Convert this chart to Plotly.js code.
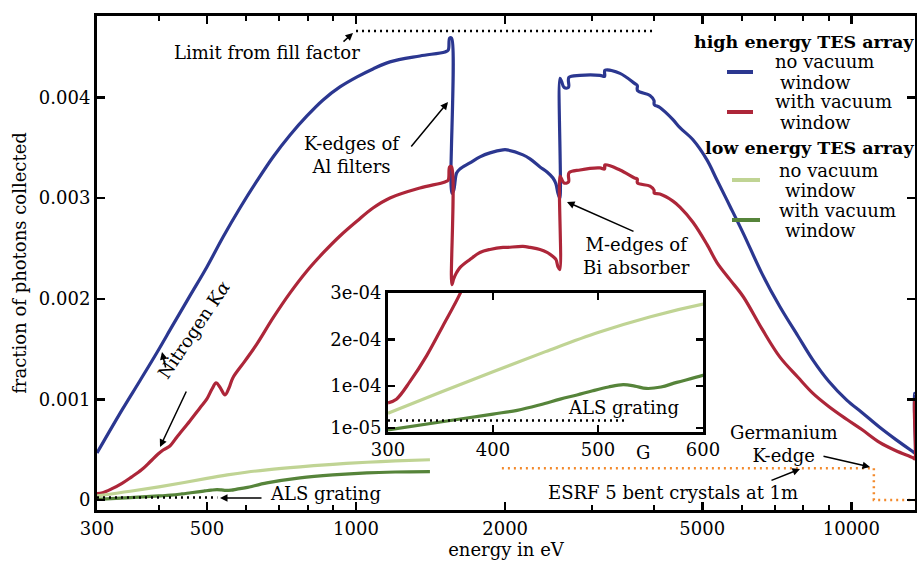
<!DOCTYPE html>
<html><head><meta charset="utf-8">
<script src="https://cdn.plot.ly/plotly-3.0.1.min.js"></script>
<style>html,body{margin:0;padding:0;background:#fff;} #chart{width:917px;height:562px;}</style>
</head><body><div id="chart"></div>
<script>
// ---------------- data ----------------
// high energy TES array, no vacuum window
const energyHighNoWindow = [300, 338, 366, 397, 427, 462, 500, 539, 583, 631, 680, 736, 796, 858, 928, 1005, 1082, 1171, 1346, 1512, 1535, 1545, 1559, 1561, 1575, 1596, 1621, 1698, 1779, 1864, 1980, 2016, 2173, 2245, 2352, 2430, 2498, 2533, 2556, 2578, 2581, 2600, 2630, 2685, 2690, 2832, 3108, 3175, 3180, 3411, 3650, 3696, 3700, 3921, 3995, 4000, 4106, 4363, 4507, 4788, 5110, 5353, 5687, 6050, 6600, 7174, 7800, 8364, 9000, 9798, 10500, 11421, 12300, 13317, 13410, 13419, 13450];
const highNoWindow = [0.000467, 0.000905, 0.001183, 0.001471, 0.00174, 0.002028, 0.002316, 0.002614, 0.002902, 0.003171, 0.003409, 0.003628, 0.003817, 0.003976, 0.004105, 0.004205, 0.004284, 0.004354, 0.004413, 0.004453, 0.00447, 0.00459, 0.00459, 0.00305, 0.00308, 0.00325, 0.00329, 0.00335, 0.00341, 0.00345, 0.00348, 0.00348, 0.00343, 0.00339, 0.00331, 0.00326, 0.0032, 0.00314, 0.00305, 0.003, 0.00419, 0.00416, 0.0041, 0.0041, 0.0042, 0.00422, 0.00422, 0.00421, 0.00427, 0.00424, 0.00414, 0.00412, 0.00407, 0.00402, 0.00397, 0.00393, 0.0039, 0.00378, 0.0037, 0.00358, 0.00338, 0.00318, 0.00292, 0.00265, 0.00225, 0.00192, 0.00163, 0.00139, 0.00118, 0.00099, 0.00087, 0.00072, 0.0006, 0.00048, 0.00047, 0.00106, 0.00106];
// high energy TES array, with vacuum window
const energyHighWithWindow = [300, 308, 321, 337, 352, 369, 384, 398, 408, 421, 435, 462, 484, 500, 512, 522, 531, 544, 554, 564, 597, 631, 680, 736, 796, 858, 928, 1005, 1082, 1171, 1346, 1512, 1535, 1545, 1559, 1561, 1575, 1596, 1621, 1698, 1779, 1864, 1980, 2016, 2173, 2245, 2352, 2430, 2498, 2533, 2556, 2578, 2581, 2600, 2630, 2685, 2690, 2832, 3108, 3175, 3180, 3411, 3650, 3696, 3700, 3921, 3995, 4000, 4106, 4363, 4507, 4788, 5110, 5353, 5687, 6050, 6600, 7174, 7800, 8364, 9000, 9798, 10500, 11421, 12300, 13317, 13410, 13419, 13450];
const highWithWindow = [0.000064, 0.000072, 0.00011, 0.000166, 0.000228, 0.0003, 0.00038, 0.000455, 0.000497, 0.000537, 0.000626, 0.000785, 0.000914, 0.001004, 0.001103, 0.001163, 0.001123, 0.001044, 0.001113, 0.001213, 0.001382, 0.001551, 0.001809, 0.002058, 0.002276, 0.002455, 0.002624, 0.002773, 0.002902, 0.003002, 0.003101, 0.003161, 0.00318, 0.00331, 0.00331, 0.00214, 0.0022, 0.00226, 0.00231, 0.00239, 0.00246, 0.00249, 0.00251, 0.00251, 0.00252, 0.00251, 0.00249, 0.00246, 0.00242, 0.00239, 0.00232, 0.00229, 0.00322, 0.00319, 0.00315, 0.00316, 0.00325, 0.00328, 0.0033, 0.00329, 0.00333, 0.00328, 0.0032, 0.00319, 0.00315, 0.00312, 0.00308, 0.00305, 0.00304, 0.00297, 0.00291, 0.00276, 0.00254, 0.00236, 0.00219, 0.00202, 0.0017, 0.00142, 0.00122, 0.00106, 0.00093, 0.0008, 0.0007, 0.00057, 0.00049, 0.00042, 0.00041, 0.001, 0.001];
// low energy TES array
const energyLowNoWindow = [300, 350, 400, 450, 500, 550, 600, 661, 771, 898, 1052, 1200, 1410];
const lowNoWindow = [4.15e-5, 8.7e-5, 1.31e-4, 1.74e-4, 2.15e-4, 2.49e-4, 2.76e-4, 3.0e-4, 3.3e-4, 3.55e-4, 3.75e-4, 3.88e-4, 4.0e-4];
const energyLowWithWindow = [300, 350, 400, 423, 445, 464, 480, 495, 510, 524, 535, 546, 560, 575, 600, 661, 771, 898, 1052, 1200, 1410];
const lowWithWindow = [6e-6, 2.3e-5, 4.0e-5, 4.8e-5, 6.0e-5, 7.2e-5, 8.1e-5, 9.0e-5, 9.8e-5, 1.03e-4, 1.0e-4, 9.5e-5, 9.8e-5, 1.08e-4, 1.23e-4, 1.7e-4, 2.2e-4, 2.5e-4, 2.7e-4, 2.78e-4, 2.82e-4];
// reference limits
const alsEnergy = [300, 525];
const alsGrating = [2.6e-5, 2.6e-5];
const fillEnergy = [1000, 3960];
const fillLimit = [0.00466, 0.00466];
const esrfEnergy = [1970, 11100, 11100, 13450];
const esrfCrystals = [0.000315, 0.000315, 0, 0];

const mainXTicks = [300, 500, 1000, 2000, 5000, 10000];
const mainXLabels = ['300', '500', '1000', '2000', '5000', '10000'];
const mainXMinor = [400, 600, 700, 800, 900, 3000, 4000, 6000, 7000, 8000, 9000];
const mainYTicks = [0, 0.001, 0.002, 0.003, 0.004];
const mainYLabels = ['0', '0.001', '0.002', '0.003', '0.004'];
const insetXTicks = [300, 400, 500, 600];
const insetXLabels = ['300', '400', '500', '600'];
const insetYTicks = [1e-5, 1e-4, 2e-4, 3e-4];
const insetYLabels = ['1e-05', '1e-04', '2e-04', '3e-04'];

// ---------------- style ----------------
const BLUE = '#2b3790', RED = '#ad2639', LGREEN = '#c0d494', DGREEN = '#56843a', ORANGE = '#f38a2c';
const FONT = 'DejaVu Serif';
const FS = 18;
const L = 97, R = 915, T = 16, B = 510;
const px = v => (v - L) / (R - L);
const py = v => (B - v) / (B - T);

function curve(x, y, color, xa, ya, name) {
  return {x: x, y: y, type: 'scatter', mode: 'lines', xaxis: xa, yaxis: ya, name: name,
    line: {color: color, width: 3.2, shape: 'spline', smoothing: 1}, hoverinfo: 'skip'};
}
function dotted(x, y, color, xa, ya, name) {
  return {x: x, y: y, type: 'scatter', mode: 'lines', xaxis: xa, yaxis: ya, name: name,
    line: {color: color, width: 2.5, dash: '2px,4px'}, hoverinfo: 'skip'};
}
const traces = [
  curve(energyHighNoWindow, highNoWindow, BLUE, 'x', 'y', 'high energy TES array: no vacuum window'),
  curve(energyHighWithWindow, highWithWindow, RED, 'x', 'y', 'high energy TES array: with vacuum window'),
  curve(energyLowNoWindow, lowNoWindow, LGREEN, 'x', 'y', 'low energy TES array: no vacuum window'),
  curve(energyLowWithWindow, lowWithWindow, DGREEN, 'x', 'y', 'low energy TES array: with vacuum window'),
  dotted(alsEnergy, alsGrating, 'black', 'x', 'y', 'ALS grating'),
  dotted(fillEnergy, fillLimit, 'black', 'x', 'y', 'Limit from fill factor'),
  dotted(esrfEnergy, esrfCrystals, ORANGE, 'x', 'y', 'ESRF 5 bent crystals at 1m'),
  curve(energyHighWithWindow, highWithWindow, RED, 'x2', 'y2', 'inset: high energy with vacuum window'),
  curve(energyLowNoWindow, lowNoWindow, LGREEN, 'x2', 'y2', 'inset: low energy no vacuum window'),
  curve(energyLowWithWindow, lowWithWindow, DGREEN, 'x2', 'y2', 'inset: low energy with vacuum window'),
  dotted(alsEnergy, alsGrating, 'black', 'x2', 'y2', 'inset: ALS grating')
];

function label(text, x, y, extra) {
  return Object.assign({xref: 'paper', yref: 'paper', x: px(x), y: py(y), text: text, showarrow: false,
    xanchor: 'center', yanchor: 'middle', font: {family: FONT, size: FS, color: 'black'}}, extra || {});
}
function arrow(hx, hy, tx, ty) {
  return {xref: 'paper', yref: 'paper', x: px(hx), y: py(hy), ax: tx - hx, ay: ty - hy, text: '',
    showarrow: true, arrowhead: 2, arrowsize: 1, arrowwidth: 1.5, arrowcolor: 'black'};
}
function swatch(x0, x1, y, color) {
  return {type: 'line', xref: 'paper', yref: 'paper', x0: px(x0), x1: px(x1), y0: py(y), y1: py(y),
    line: {color: color, width: 4}};
}
const boldFont = {family: FONT, size: 17.5, color: 'black'};

const annotations = [
  label('Limit from fill factor', 267, 53),
  arrow(353, 33, 342, 43),
  label('K-edges of<br>Al filters', 352, 155),
  arrow(448, 102, 410, 148),
  label('M-edges of<br>Bi absorber', 636, 256),
  arrow(567, 202, 635, 232),
  label('Nitrogen K<i>α</i>', 193, 330, {textangle: -56}),
  arrow(162, 352, 166, 369),
  arrow(160, 447, 187, 390),
  label('ALS grating', 325, 493),
  arrow(220, 498, 263, 498),
  label('ALS grating', 623, 408),
  label('G', 643, 452),
  label('Germanium<br>K-edge', 783, 444),
  arrow(870, 467, 822, 456),
  label('ESRF 5 bent crystals at 1m', 673, 492),
  arrow(800, 469, 770, 481),
  // legend
  label('<b>high energy TES array</b>', 804, 42, {font: boldFont}),
  label('no vacuum', 773, 62, {xanchor: 'left'}),
  label('window', 778, 82, {xanchor: 'left'}),
  label('with vacuum', 773, 101, {xanchor: 'left'}),
  label('window', 778, 122, {xanchor: 'left'}),
  label('<b>low energy TES array</b>', 809, 148, {font: boldFont}),
  label('no vacuum', 777, 170, {xanchor: 'left'}),
  label('window', 783, 190, {xanchor: 'left'}),
  label('with vacuum', 777, 210, {xanchor: 'left'}),
  label('window', 783, 230, {xanchor: 'left'})
];
const shapes = [
  swatch(727, 753, 72, BLUE),
  swatch(727, 753, 112, RED),
  swatch(732, 760, 180, LGREEN),
  swatch(732, 760, 220, DGREEN)
];

const axisCommon = {showline: true, linecolor: 'black', linewidth: 3, mirror: 'ticks', ticks: 'inside',
  ticklen: 8, tickwidth: 2.5, tickcolor: 'black', showgrid: false, zeroline: false,
  tickfont: {family: FONT, size: FS, color: 'black'}, tickmode: 'array'};

const layout = {
  width: 917, height: 562,
  margin: {l: 97, r: 2, t: 16, b: 52},
  paper_bgcolor: 'white', plot_bgcolor: 'white',
  showlegend: false,
  font: {family: FONT, size: FS, color: 'black'},
  xaxis: Object.assign({}, axisCommon, {
    type: 'log', range: [Math.log10(300), Math.log10(13440)],
    tickvals: mainXTicks, ticktext: mainXLabels,
    minor: {tickvals: mainXMinor, ticks: 'inside', ticklen: 5, tickwidth: 2, tickcolor: 'black', showgrid: false},
    title: {text: 'energy in eV', font: {family: FONT, size: FS}, standoff: 4}
  }),
  yaxis: Object.assign({}, axisCommon, {
    range: [-0.0000994, 0.00481], tickvals: mainYTicks, ticktext: mainYLabels,
    title: {text: 'fraction of photons collected', font: {family: FONT, size: FS}, standoff: 8}
  }),
  xaxis2: Object.assign({}, axisCommon, {
    domain: [px(388), px(703)], anchor: 'y2', range: [300, 600],
    tickvals: insetXTicks, ticktext: insetXLabels, ticklen: 7
  }),
  yaxis2: Object.assign({}, axisCommon, {
    domain: [py(431.7), py(292.7)], anchor: 'x2', range: [2.1e-6, 3.005e-4],
    tickvals: insetYTicks, ticktext: insetYLabels, ticklen: 7
  }),
  annotations: annotations,
  shapes: shapes
};

Plotly.newPlot('chart', traces, layout, {displayModeBar: false, staticPlot: true});
</script>
</body></html>
